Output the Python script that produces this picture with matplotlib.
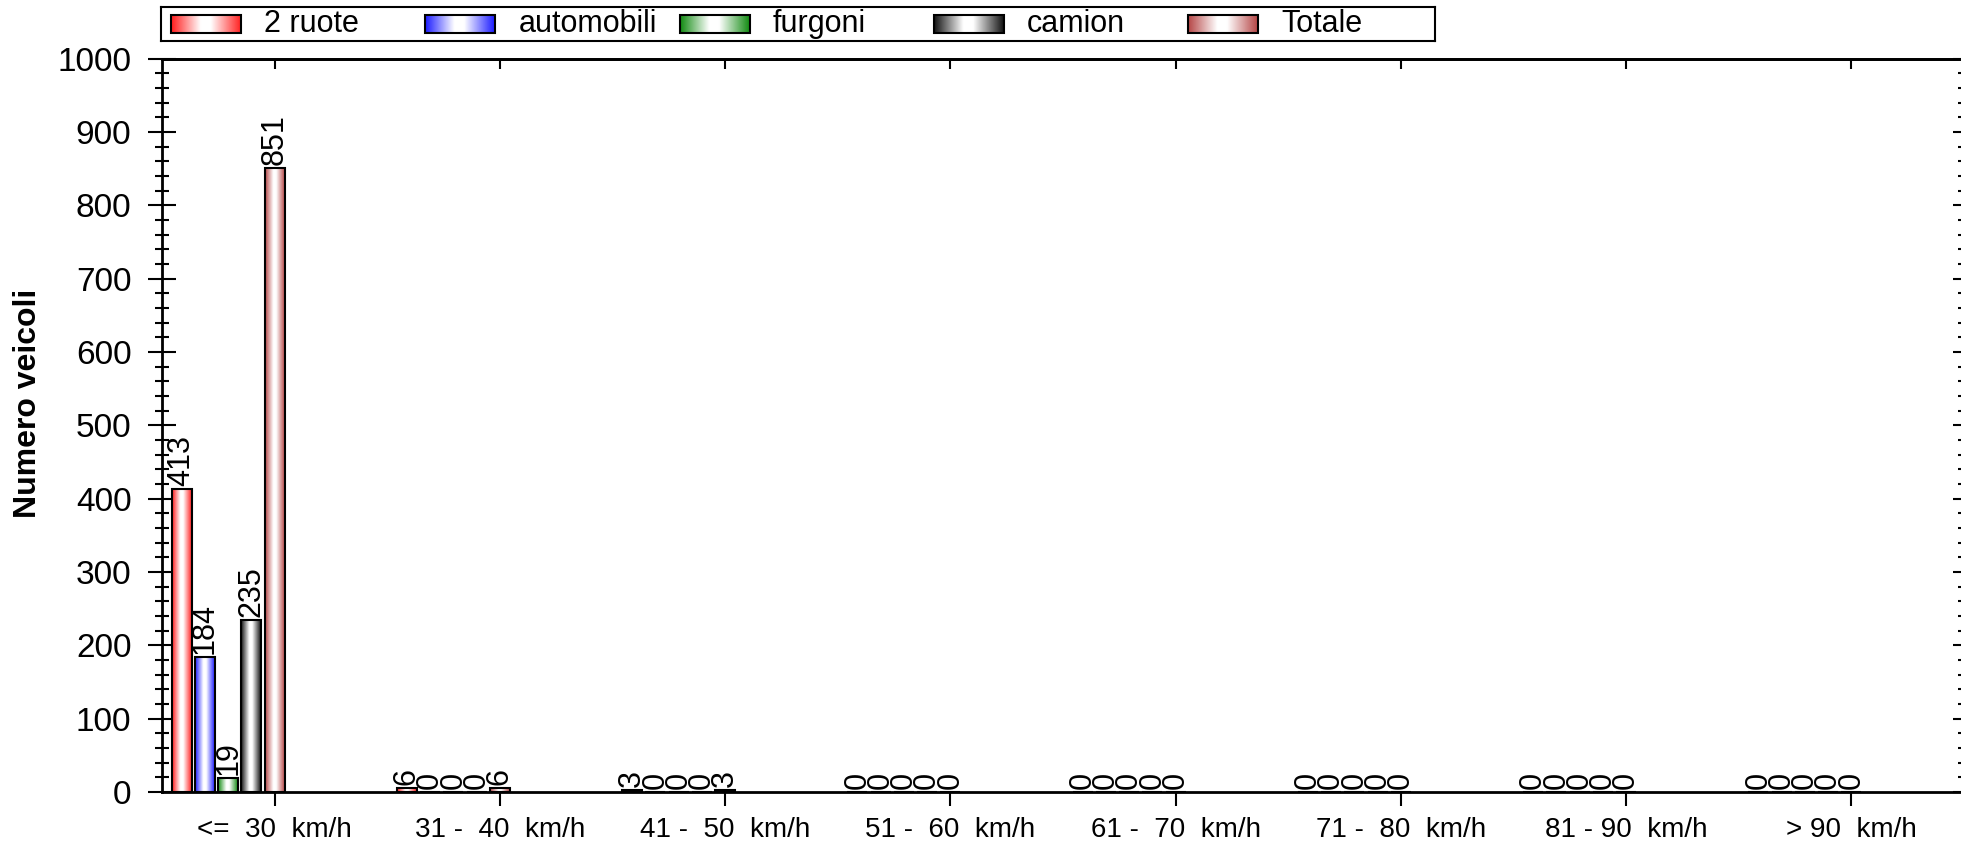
import matplotlib
matplotlib.use('Agg')
import matplotlib.pyplot as plt
import numpy as np
from matplotlib.colors import LinearSegmentedColormap
from matplotlib.patches import Rectangle
from matplotlib.ticker import MultipleLocator

plt.rcParams['font.family'] = ['Liberation Sans', 'DejaVu Sans']

# ── data ─────────────────────────────────────────────────────────────────────
categories = ['<=  30  km/h', '31 -  40  km/h', '41 -  50  km/h', '51 -  60  km/h',
              '61 -  70  km/h', '71 -  80  km/h', '81 - 90  km/h', '> 90  km/h']
series = ['2 ruote', 'automobili', 'furgoni', 'camion', 'Totale']
due_ruote = [413, 6, 3, 0, 0, 0, 0, 0]
automobili = [184, 0, 0, 0, 0, 0, 0, 0]
furgoni = [19, 0, 0, 0, 0, 0, 0, 0]
camion = [235, 0, 0, 0, 0, 0, 0, 0]
totale = [851, 6, 3, 0, 0, 0, 0, 0]
colors = ['#ff1a1a', '#1a1aff', '#108a10', '#111111', '#b54545']

W, H = 1961, 842
fig = plt.figure(figsize=(W / 100, H / 100), dpi=100)
fig.patch.set_facecolor('white')
ax = fig.add_axes([162 / W, 1 - 792 / H, (1964 - 162) / W, (792 - 58.7) / H])

grad = np.linspace(0, 1, 256).reshape(1, -1)


def grad_cmap(c):
    return LinearSegmentedColormap.from_list(
        'g', [(0, c), (0.42, 'white'), (0.56, 'white'), (1, c)])


# ── bars ─────────────────────────────────────────────────────────────────────
pitch = 0.1032
width = 0.0887
x = np.arange(len(categories))
values = [due_ruote, automobili, furgoni, camion, totale]
for j, (name, vals, c) in enumerate(zip(series, values, colors)):
    xs = x + (j - 4) * pitch
    bars = ax.bar(xs, vals, width, facecolor='none', edgecolor='black',
                  linewidth=1.5, zorder=3)
    cm = grad_cmap(c)
    for b, v in zip(bars, vals):
        if v > 0:
            ax.imshow(grad, extent=[b.get_x(), b.get_x() + b.get_width(), 0, v],
                      aspect='auto', cmap=cm, zorder=2, interpolation='bilinear')
        ax.annotate(str(v), (b.get_x() + b.get_width() / 2, v), xytext=(0, 2),
                    textcoords='offset points', rotation=90, ha='center',
                    va='bottom', fontsize=22, zorder=4)

ax.set_xlim(-0.5, 7.5)
ax.set_ylim(0, 1000)

# ── axes / ticks ─────────────────────────────────────────────────────────────
ax.set_xticks(x)
ax.set_xticklabels(categories, fontsize=20)
ax.tick_params(axis='x', direction='out', length=10, width=1.5, pad=8)
ax.yaxis.set_major_locator(MultipleLocator(100))
ax.yaxis.set_minor_locator(MultipleLocator(20))
ax.tick_params(axis='y', which='major', direction='inout', length=20, width=1.5,
               labelsize=24, pad=12)
ax.tick_params(axis='y', which='minor', direction='inout', length=10, width=1.5)
for s in ax.spines.values():
    s.set_linewidth(2)

ax.set_ylabel('Numero veicoli', fontsize=23, fontweight='bold')
ax.yaxis.set_label_coords(-0.066, 0.53)

# right ticks pointing inward
tw = ax.twinx()
tw.set_ylim(0, 1000)
tw.yaxis.set_major_locator(MultipleLocator(100))
tw.yaxis.set_minor_locator(MultipleLocator(20))
tw.tick_params(axis='y', which='major', direction='in', length=8, width=1.5,
               labelright=False)
tw.tick_params(axis='y', which='minor', direction='in', length=4, width=1.5)
for s in tw.spines.values():
    s.set_visible(False)

# top ticks pointing inward
top = ax.secondary_xaxis('top')
top.set_xticks(x)
top.set_xticklabels([])
top.tick_params(direction='in', length=7, width=1.5)
top.spines['top'].set_linewidth(2)

# ── legend ───────────────────────────────────────────────────────────────────
lg = fig.add_axes([161 / W, 1 - 41 / H, (1435 - 161) / W, 34 / H])
lg.set_xticks([])
lg.set_yticks([])
for s in lg.spines.values():
    s.set_linewidth(1.5)
for i, (name, c) in enumerate(zip(series, colors)):
    px = 171 + i * 254.25
    lg.imshow(grad, extent=[px, px + 70, 33, 15], aspect='auto',
              cmap=grad_cmap(c), interpolation='bilinear')
    lg.add_patch(Rectangle((px, 15), 70, 18, facecolor='none',
                           edgecolor='black', linewidth=1.5))
    lg.text(px + 93, 24, name, va='center', ha='left', fontsize=22)
lg.set_xlim(161, 1435)
lg.set_ylim(41, 7)

fig.savefig('out.png', dpi=100, facecolor='white')
